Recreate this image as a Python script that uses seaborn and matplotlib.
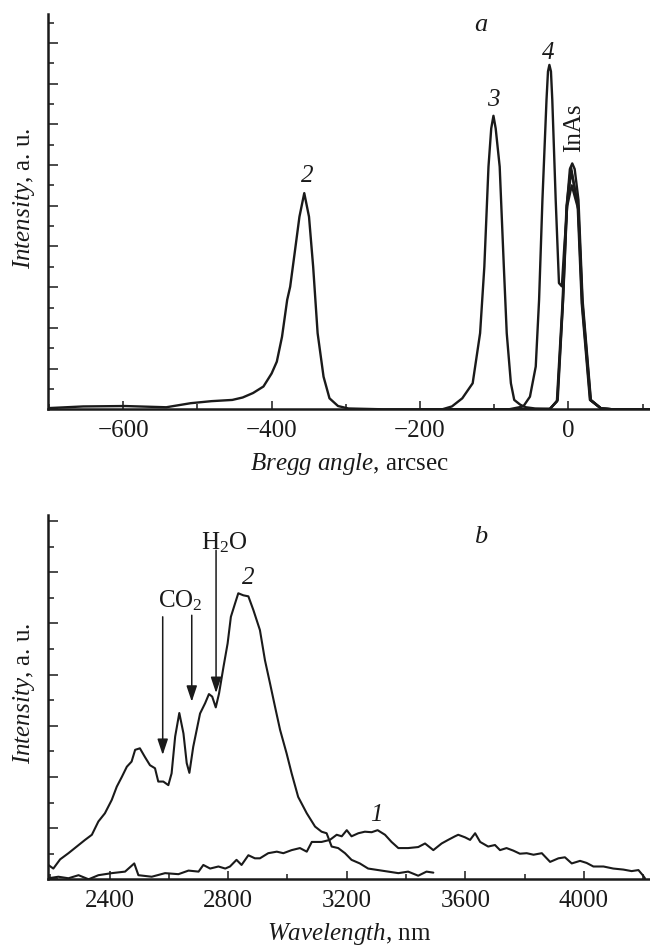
import matplotlib
matplotlib.use("Agg")
import matplotlib.pyplot as plt
from matplotlib.ticker import MultipleLocator
import seaborn as sns

# --- panel a: X-ray rocking curves (Bragg angle, arcsec) ---
bragg_2 = [-700, -654, -598, -542, -509, -481, -453, -439, -425, -411, -400, -393, -386,
           -379, -375, -369, -362.5, -356, -349.6, -344, -338, -330, -322, -310.5, -296.5,
           -250, -200, -150, -100, -50, -25, -15.5, -8, -2.5, 3.5, 12.5, 18, 29, 44, 60, 110]
int_2 = [0.03, 0.07, 0.08, 0.05, 0.15, 0.20, 0.23, 0.29, 0.40, 0.56, 0.88, 1.17, 1.78,
         2.69, 3.01, 3.83, 4.73, 5.31, 4.73, 3.50, 1.87, 0.80, 0.27, 0.08, 0.02,
         0, 0, 0, 0, 0, 0.01, 0.2, 2.6, 5.0, 5.95, 5.0, 2.6, 0.23, 0.02, 0, 0]

bragg_3 = [-200, -170, -157, -143, -129, -119, -113.3, -107.7, -104, -101, -98, -92.6, -87,
           -83.1, -77.5, -73, -64.7, -57.4, -45, -25, -15, -7.5, -2, 4, 13, 18.5, 29.5, 44, 60, 110]
int_3 = [0, 0, 0.07, 0.27, 0.64, 1.87, 3.50, 5.96, 6.9, 7.21, 6.9, 5.96, 3.50,
         1.87, 0.64, 0.23, 0.11, 0.05, 0.02, 0.01, 0.2, 2.6, 5.0, 5.85, 5.0, 2.6, 0.23, 0.02, 0, 0]

bragg_4 = [-200, -80, -60.8, -51.8, -44, -39.5, -35, -29.5, -27.5, -25.6, -23.5, -21.7, -17.1,
           -12.7, -8.8, -5.5, -1.5, 4.5, 13.5, 19, 30, 44, 60, 110]
int_4 = [0, 0, 0.07, 0.31, 1.05, 2.69, 5.14, 7.6, 8.3, 8.46, 8.3, 7.6, 5.14,
         3.10, 3.02, 4.0, 5.0, 5.5, 4.9, 2.6, 0.23, 0.02, 0, 0]

bragg_inas = [-200, -25, -14.4, -7.1, -1.5, 2, 5.2, 8.5, 13.6, 19.1, 30.3, 44.3, 60, 110]
int_inas = [0, 0, 0.23, 2.69, 5.14, 5.9, 6.04, 5.9, 5.14, 2.69, 0.23, 0.02, 0, 0]

# --- panel b: PL spectra (wavelength, nm) ---
wl_2 = [2193, 2210, 2233, 2261, 2289, 2317, 2340, 2362, 2384, 2407, 2424, 2441, 2458, 2474,
        2486, 2502, 2519, 2536, 2553, 2564, 2581, 2598, 2609, 2621, 2635, 2649, 2660, 2669,
        2682, 2705, 2722, 2735, 2746, 2758, 2769, 2784, 2798, 2809, 2823, 2834, 2851, 2868,
        2885, 2907, 2924, 2941, 2958, 2975, 2997, 3014, 3036, 3065, 3093, 3115, 3132, 3149,
        3171, 3194, 3216, 3244, 3272, 3306, 3340, 3374, 3407, 3441, 3469, 3492]
pl_2 = [0.28, 0.21, 0.39, 0.51, 0.64, 0.77, 0.87, 1.13, 1.29, 1.55, 1.81, 2.00, 2.20, 2.30,
        2.53, 2.56, 2.39, 2.23, 2.17, 1.91, 1.91, 1.84, 2.07, 2.79, 3.25, 2.85, 2.27, 2.08,
        2.59, 3.24, 3.44, 3.62, 3.57, 3.36, 3.63, 4.15, 4.61, 5.13, 5.39, 5.59, 5.55, 5.53,
        5.26, 4.87, 4.28, 3.83, 3.37, 2.92, 2.46, 2.07, 1.61, 1.29, 1.03, 0.93, 0.90, 0.64,
        0.61, 0.51, 0.38, 0.31, 0.21, 0.18, 0.15, 0.12, 0.15, 0.07, 0.15, 0.13]

wl_1 = [2193, 2227, 2261, 2295, 2329, 2362, 2407, 2452, 2483, 2497, 2542, 2587, 2632, 2666,
        2700, 2716, 2739, 2767, 2790, 2806, 2828, 2845, 2868, 2890, 2907, 2935, 2964, 2986,
        3014, 3042, 3065, 3082, 3115, 3143, 3166, 3183, 3200, 3216, 3239, 3261, 3284, 3304,
        3329, 3351, 3374, 3407, 3441, 3464, 3492, 3520, 3542, 3565, 3576, 3599, 3616, 3633,
        3650, 3677, 3700, 3717, 3739, 3762, 3784, 3807, 3830, 3858, 3886, 3914, 3936, 3959,
        3987, 4009, 4032, 4066, 4099, 4133, 4161, 4184, 4200, 4206]
pl_1 = [0.02, 0.05, 0.02, 0.08, 0.00, 0.08, 0.12, 0.15, 0.31, 0.08, 0.05, 0.12, 0.10, 0.17,
        0.15, 0.28, 0.21, 0.25, 0.21, 0.25, 0.38, 0.28, 0.47, 0.41, 0.41, 0.51, 0.54, 0.51,
        0.57, 0.61, 0.54, 0.73, 0.73, 0.77, 0.87, 0.84, 0.96, 0.84, 0.90, 0.93, 0.92, 0.96,
        0.87, 0.73, 0.61, 0.61, 0.63, 0.70, 0.57, 0.70, 0.77, 0.84, 0.87, 0.82, 0.77, 0.90,
        0.73, 0.64, 0.67, 0.57, 0.61, 0.56, 0.50, 0.51, 0.48, 0.51, 0.34, 0.41, 0.43, 0.31,
        0.36, 0.32, 0.25, 0.25, 0.21, 0.19, 0.16, 0.18, 0.07, 0.02]

sns.set_theme(style="ticks", rc={"text.color": "k", "axes.labelcolor": "k",
                                 "xtick.color": "k", "ytick.color": "k",
                                 "axes.edgecolor": "k"})
plt.rcParams["font.family"] = ["Liberation Serif", "DejaVu Serif"]
plt.rcParams["mathtext.fontset"] = "custom"
plt.rcParams["mathtext.rm"] = "Liberation Serif"
plt.rcParams["mathtext.it"] = "Liberation Serif:italic"
FS = 18

fig = plt.figure(figsize=(6.5, 9.47), dpi=100)
ax1 = fig.add_axes([0.0743, 0.5678, 0.9257, 0.4174])
ax2 = fig.add_axes([0.0743, 0.0715, 0.9257, 0.3847])

# panel a curves
for xs, ys in [(bragg_2, int_2), (bragg_3, int_3), (bragg_4, int_4), (bragg_inas, int_inas)]:
    sns.lineplot(x=xs, y=ys, ax=ax1, color="k", lw=1.7, sort=False, estimator=None)

ax1.set_xlim(-701, 110)
ax1.set_ylim(0, 9.71)
ax1.xaxis.set_major_locator(MultipleLocator(200))
ax1.xaxis.set_minor_locator(MultipleLocator(100))
ax1.set_xlabel(r"$\mathit{Bregg\ angle}$, arcsec", fontsize=FS, labelpad=6)
ax1.set_ylabel(r"$\mathit{Intensity}$, a. u.", fontsize=FS)
ax1.yaxis.set_label_coords(-0.019, 0.534)

ax1.text(-117.7, 9.44, "a", fontsize=FS + 1, style="italic", ha="center", va="center")
ax1.text(-27.4, 8.75, "4", fontsize=FS, style="italic", ha="center", va="center")
ax1.text(-101, 7.6, "3", fontsize=FS, style="italic", ha="center", va="center")
ax1.text(-352.4, 5.72, "2", fontsize=FS, style="italic", ha="center", va="center")
ax1.text(7.7, 6.91, "InAs", fontsize=FS, rotation=90, ha="center", va="center")

# panel b curves
sns.lineplot(x=wl_2, y=pl_2, ax=ax2, color="k", lw=1.5, sort=False, estimator=None)
sns.lineplot(x=wl_1, y=pl_1, ax=ax2, color="k", lw=1.5, sort=False, estimator=None)

ax2.set_xlim(2193, 4223)
ax2.set_ylim(0, 7.12)
ax2.xaxis.set_major_locator(MultipleLocator(400))
ax2.xaxis.set_minor_locator(MultipleLocator(200))
ax2.set_xlabel(r"$\mathit{Wavelength}$, nm", fontsize=FS, labelpad=6)
ax2.set_ylabel(r"$\mathit{Intensity}$, a. u.", fontsize=FS)
ax2.yaxis.set_label_coords(-0.019, 0.51)

arrow = dict(arrowstyle="-|>,head_length=0.6,head_width=0.2", color="k", lw=1.1,
             mutation_scale=16, shrinkA=0, shrinkB=0)
ax2.annotate("", xy=(2579, 2.43), xytext=(2579, 5.13), arrowprops=arrow)
ax2.annotate("", xy=(2677, 3.47), xytext=(2677, 5.16), arrowprops=arrow)
ax2.annotate("", xy=(2759, 3.64), xytext=(2759, 6.43), arrowprops=arrow)
ax2.text(2638, 5.45, r"CO$_2$", fontsize=FS, ha="center", va="center")
ax2.text(2786, 6.57, r"H$_2$O", fontsize=FS, ha="center", va="center")
ax2.text(2867, 5.89, "2", fontsize=FS, style="italic", ha="center", va="center")
ax2.text(3301, 1.26, "1", fontsize=FS, style="italic", ha="center", va="center")
ax2.text(3652, 6.69, "b", fontsize=FS + 1, style="italic", ha="center", va="center")

for ax in (ax1, ax2):
    sns.despine(ax=ax)
    ax.yaxis.set_major_locator(MultipleLocator(1))
    ax.yaxis.set_minor_locator(MultipleLocator(0.5))
    ax.spines["left"].set_linewidth(1.8)
    ax.spines["bottom"].set_linewidth(1.8)
    ax.tick_params(which="both", direction="in", width=1.1, labelsize=FS)
    ax.tick_params(axis="x", which="major", length=6, pad=8)
    ax.tick_params(axis="x", which="minor", length=3.5)
    ax.tick_params(axis="y", which="major", length=7, labelleft=False)
    ax.tick_params(axis="y", which="minor", length=4)

fig.savefig("out.png", dpi=100)
